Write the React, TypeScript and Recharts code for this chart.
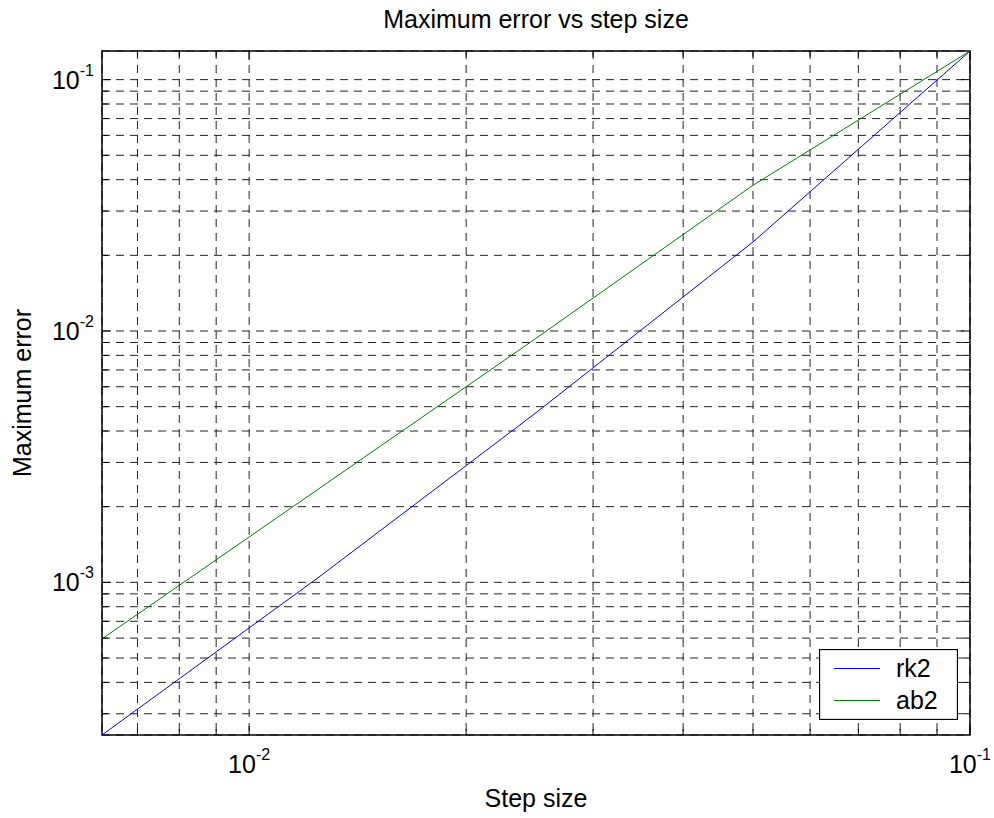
import { LineChart, Line, XAxis, YAxis, CartesianGrid, Legend, ReferenceArea } from "recharts";

const stepSizes = [0.00625, 0.0125, 0.025, 0.05, 0.1];
const rk2Err = [2.47e-4, 1.05e-3, 4.73e-3, 0.0226, 0.13];
const ab2Err = [5.96e-4, 2.36e-3, 9.35e-3, 0.038, 0.13];
const seriesNames = ["rk2", "ab2"];

const xTicks = [0.007, 0.008, 0.009, 0.01, 0.02, 0.03, 0.04, 0.05, 0.06, 0.07, 0.08, 0.09, 0.1];
const xMajor = [0.01, 0.1];
const xMajorExp = ["-2", "-1"];

const yTicks = [
  0.0003, 0.0004, 0.0005, 0.0006, 0.0007, 0.0008, 0.0009, 0.001,
  0.002, 0.003, 0.004, 0.005, 0.006, 0.007, 0.008, 0.009, 0.01,
  0.02, 0.03, 0.04, 0.05, 0.06, 0.07, 0.08, 0.09, 0.1,
];
const yMajor = [0.001, 0.01, 0.1];
const yMajorExp = ["-3", "-2", "-1"];

const X_DOMAIN = [0.00625, 0.1];
const Y_DOMAIN = [2.47e-4, 0.13];

const data = stepSizes.map((h, i) => ({ h, rk2: rk2Err[i], ab2: ab2Err[i] }));

const FONT = '"Liberation Sans", Arial, Helvetica, sans-serif';
const W = 994;
const H = 818;
const TOP = 51;
const LEFT = 102;
const RIGHT = 970;
const BOTTOM = 735;

function XTick({ x, y, payload }: any) {
  const k = xMajor.indexOf(payload.value);
  const len = k >= 0 ? 9 : 6;
  return (
    <g>
      <line x1={x} y1={y} x2={x} y2={y - len} stroke="#000" />
      <line x1={x} y1={TOP} x2={x} y2={TOP + len} stroke="#000" />
      {k >= 0 && (
        <text x={x} y={y + 38} textAnchor="middle" fontSize={25} fill="#000" fontFamily={FONT}>
          10<tspan dy={-13} fontSize={16}>{xMajorExp[k]}</tspan>
        </text>
      )}
    </g>
  );
}

function YTick({ x, y, payload }: any) {
  const k = yMajor.indexOf(payload.value);
  const len = k >= 0 ? 9 : 6;
  return (
    <g>
      <line x1={x} y1={y} x2={x + len} y2={y} stroke="#000" />
      <line x1={RIGHT} y1={y} x2={RIGHT - len} y2={y} stroke="#000" />
      {k >= 0 && (
        <text x={x - 8} y={y + 9} textAnchor="end" fontSize={25} fill="#000" fontFamily={FONT}>
          10<tspan dy={-13} fontSize={16}>{yMajorExp[k]}</tspan>
        </text>
      )}
    </g>
  );
}

function LegendBox({ payload }: any) {
  // keep plot order (rk2 first), recharts sorts by name otherwise
  const items = [...(payload || [])].sort(
    (a: any, b: any) => seriesNames.indexOf(a.value) - seriesNames.indexOf(b.value)
  );
  return (
    <svg width={139} height={71} style={{ display: "block" }}>
      <rect x={0.5} y={0.5} width={138} height={70} fill="#fff" stroke="#000" strokeWidth={1.3} />
      {items.map((p: any, i: number) => (
        <g key={p.value}>
          <line x1={15} x2={61} y1={19.5 + i * 32} y2={19.5 + i * 32} stroke={p.color} />
          <text x={77} y={28 + i * 31.5} fontSize={25} fill="#000" fontFamily={FONT}>
            {p.value}
          </text>
        </g>
      ))}
    </svg>
  );
}

export default function App() {
  return (
    <div style={{ position: "absolute", left: 0, top: 0, width: W, height: H, background: "#fff", fontFamily: FONT }}>
      <svg width={W} height={40} style={{ position: "absolute", left: 0, top: 0 }}>
        <text x={536} y={28} textAnchor="middle" fontSize={25} fill="#000" fontFamily={FONT}>
          Maximum error vs step size
        </text>
      </svg>
      <div style={{ position: "absolute", left: 0, top: 0 }}>
        <LineChart width={W} height={H} data={data} margin={{ top: TOP, right: W - RIGHT, bottom: 0, left: 0 }}>
          <CartesianGrid stroke="#222" strokeDasharray="8 6" />
          <XAxis
            dataKey="h"
            type="number"
            scale="log"
            domain={X_DOMAIN}
            allowDataOverflow
            ticks={xTicks}
            interval={0}
            height={H - BOTTOM}
            tickSize={0}
            tickMargin={0}
            tickLine={false}
            axisLine={false}
            tick={<XTick />}
            label={({ viewBox }: any) => (
              <text
                x={viewBox.x + viewBox.width / 2}
                y={806.5}
                textAnchor="middle"
                fontSize={25}
                fill="#000"
                fontFamily={FONT}
              >
                Step size
              </text>
            )}
          />
          <YAxis
            type="number"
            scale="log"
            domain={Y_DOMAIN}
            allowDataOverflow
            ticks={yTicks}
            interval={0}
            width={LEFT}
            tickSize={0}
            tickMargin={0}
            tickLine={false}
            axisLine={false}
            tick={<YTick />}
            label={({ viewBox }: any) => {
              const cx = 31;
              const cy = viewBox.y + viewBox.height / 2;
              return (
                <text
                  x={cx}
                  y={cy}
                  transform={`rotate(-90 ${cx} ${cy})`}
                  textAnchor="middle"
                  fontSize={25}
                  fill="#000"
                  fontFamily={FONT}
                >
                  Maximum error
                </text>
              );
            }}
          />
          <ReferenceArea
            x1={X_DOMAIN[0]}
            x2={X_DOMAIN[1]}
            y1={Y_DOMAIN[0]}
            y2={Y_DOMAIN[1]}
            ifOverflow="visible"
            fill="none"
            fillOpacity={0}
            stroke="#000"
            strokeWidth={1.5}
          />
          <Line type="linear" dataKey="rk2" name="rk2" stroke="#0000ff" strokeWidth={1} dot={false} isAnimationActive={false} />
          <Line type="linear" dataKey="ab2" name="ab2" stroke="#008000" strokeWidth={1} dot={false} isAnimationActive={false} />
          <Legend
            layout="vertical"
            align="center"
            verticalAlign="middle"
            content={<LegendBox />}
            wrapperStyle={{ left: 819, top: 649, width: 139, height: 71 }}
          />
        </LineChart>
      </div>
    </div>
  );
}
